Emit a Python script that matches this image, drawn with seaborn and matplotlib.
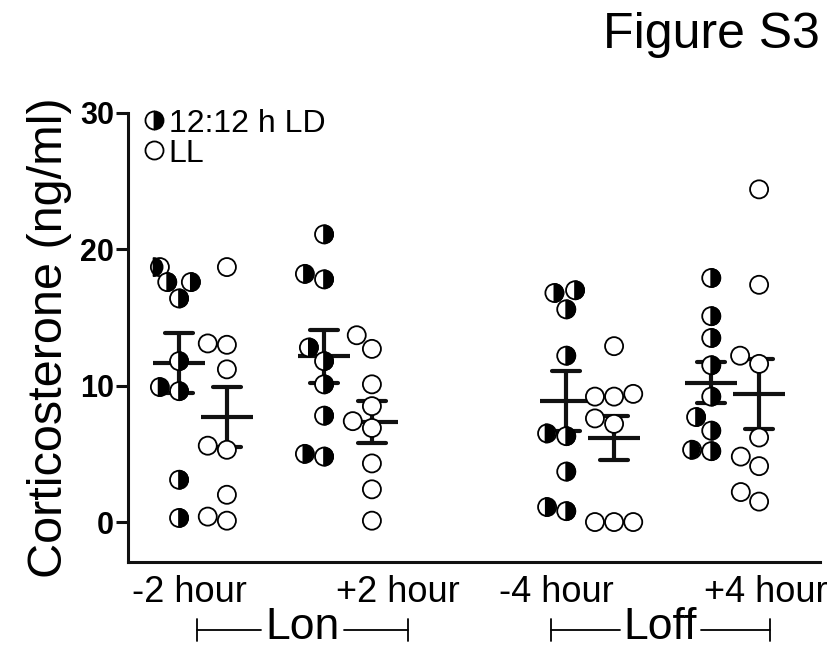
import numpy as np
import pandas as pd
import matplotlib
matplotlib.use("Agg")
import matplotlib.pyplot as plt
import matplotlib.transforms as mtransforms
from matplotlib.lines import Line2D
from matplotlib.path import Path
import seaborn as sns

# values (ng/ml), 9 animals per group
timepoints = ["-2 hour", "+2 hour", "-4 hour", "+4 hour"]
conditions = ["12:12 h LD", "LL"]

ld_m2 = [18.7, 17.6, 17.6, 16.4, 11.8, 9.6, 9.9, 3.1, 0.3]
ll_m2 = [18.7, 13.1, 13.0, 11.2, 5.6, 5.3, 2.0, 0.1, 0.4]
ld_p2 = [21.1, 17.8, 18.2, 12.8, 11.8, 10.1, 7.8, 4.8, 5.0]
ll_p2 = [13.7, 12.7, 10.1, 8.5, 7.4, 6.9, 4.3, 2.4, 0.1]
ld_m4 = [17.0, 16.8, 15.6, 12.2, 6.3, 6.5, 3.7, 0.8, 1.1]
ll_m4 = [12.9, 9.2, 9.4, 9.2, 7.6, 7.2, 0.0, 0.0, 0.0]
ld_p4 = [17.9, 15.1, 13.5, 11.5, 9.2, 7.7, 6.7, 5.2, 5.3]
ll_p4 = [24.4, 17.4, 12.2, 11.6, 6.2, 4.8, 4.1, 2.2, 1.5]

groups = {
    ("-2 hour", "12:12 h LD"): ld_m2, ("-2 hour", "LL"): ll_m2,
    ("+2 hour", "12:12 h LD"): ld_p2, ("+2 hour", "LL"): ll_p2,
    ("-4 hour", "12:12 h LD"): ld_m4, ("-4 hour", "LL"): ll_m4,
    ("+4 hour", "12:12 h LD"): ld_p4, ("+4 hour", "LL"): ll_p4,
}

# layout: Lon pair and Loff pair separated by a wider gap,
# LD / LL side by side within each time point
xpos = {"-2 hour": 0.0, "+2 hour": 1.0, "-4 hour": 2.67, "+4 hour": 3.67}
hue_shift = {"12:12 h LD": -0.165, "LL": 0.165}
label_x = [-0.09, 1.345, 2.44, 3.88]

rows = []
for (tp, cond), vals in groups.items():
    for v in vals:
        rows.append({"time": tp, "x": xpos[tp] + hue_shift[cond],
                     "light": cond, "cort": v})
df = pd.DataFrame(rows)

sns.set_style("ticks")
plt.rcParams["font.family"] = ["Liberation Sans", "DejaVu Sans"]
plt.rcParams["text.color"] = "black"
plt.rcParams["xtick.color"] = "black"
plt.rcParams["ytick.color"] = "black"
plt.rcParams["axes.labelcolor"] = "black"

fig = plt.figure(figsize=(8.37, 6.51), dpi=100)
ax = fig.add_axes([128 / 837, 1 - 562 / 651, 692 / 837, 449 / 651])

msize = 13
lw = 1.3
white = {c: "white" for c in conditions}
black = {c: "black" for c in conditions}

# open circles for every animal
sns.swarmplot(data=df, x="x", y="cort", hue="light", hue_order=conditions,
              native_scale=True, orient="x", size=msize, palette=white,
              edgecolor="black", linewidth=lw, legend=False, ax=ax)

# right half filled for the LD animals (same swarm layout)
half_disc = Path.wedge(-90, 90)
ld = df[df["light"] == conditions[0]]
sns.swarmplot(data=ld, x="x", y="cort", hue="light", hue_order=conditions,
              native_scale=True, orient="x", size=msize, palette=black,
              edgecolor="black", linewidth=lw, marker=half_disc,
              legend=False, ax=ax)

# mean +/- SEM
sns.pointplot(data=df, x="x", y="cort", hue="light", hue_order=conditions,
              native_scale=True, orient="x", errorbar="se",
              capsize=0.58, marker="_", markersize=37, markeredgewidth=3,
              linestyle="none", palette={c: "#111111" for c in conditions},
              err_kws={"linewidth": 3}, legend=False, ax=ax)

ax.set_xlim(-0.517, 4.255)
ax.set_ylim(-2.93, 30)
ax.set_yticks([0, 10, 20, 30])
ax.set_yticklabels(["0", "10", "20", "30"], fontsize=22, fontweight="bold")
ax.set_xticks(label_x)
ax.set_xticklabels(timepoints, fontsize=26)
ax.tick_params(axis="x", length=0, pad=9)
ax.tick_params(axis="y", length=9, width=2.2, pad=1, color="#111111")
ax.set_xlabel("")
ax.set_ylabel("Corticosterone (ng/ml)", fontsize=35)
ax.yaxis.set_label_coords(-0.081, 0.5)
for side in ["top", "right"]:
    ax.spines[side].set_visible(False)
for side in ["left", "bottom"]:
    ax.spines[side].set_linewidth(2.2)
    ax.spines[side].set_color("#111111")

handles = [
    Line2D([], [], marker="o", ls="none", ms=13, fillstyle="right",
           mfc="black", mfcalt="white", mec="black", mew=lw),
    Line2D([], [], marker="o", ls="none", ms=13, mfc="white", mec="black", mew=lw),
]
ax.legend(handles, conditions, loc="upper left", bbox_to_anchor=(0.017, 1.01),
          frameon=False, fontsize=23, handlelength=0.9, handletextpad=0.0,
          labelspacing=0.0, borderaxespad=0, borderpad=0)

# Lon / Loff brackets under the axis, line broken around the word
trans = mtransforms.blended_transform_factory(ax.transData, ax.transAxes)
fig.canvas.draw()
inv = ax.transData.inverted()
for name, x0, x1 in [("Lon", -0.041, 1.414), ("Loff", 2.40, 3.91)]:
    t = ax.text((x0 + x1) / 2, -0.172, name, transform=trans, ha="center",
                va="baseline", fontsize=32)
    bb = t.get_window_extent(fig.canvas.get_renderer())
    left = inv.transform((bb.x0 - 4, 0))[0]
    right = inv.transform((bb.x1 + 4, 0))[0]
    ax.plot([x0, left], [-0.152, -0.152], color="black", lw=1.3,
            transform=trans, clip_on=False)
    ax.plot([right, x1], [-0.152, -0.152], color="black", lw=1.3,
            transform=trans, clip_on=False)
    for xx in (x0, x1):
        ax.plot([xx, xx], [-0.127, -0.177], color="black", lw=1.3,
                transform=trans, clip_on=False)

fig.text(820 / 837, 1 - 48 / 651, "Figure S3", ha="right", va="baseline", fontsize=36)

fig.savefig("out.png", dpi=100)
